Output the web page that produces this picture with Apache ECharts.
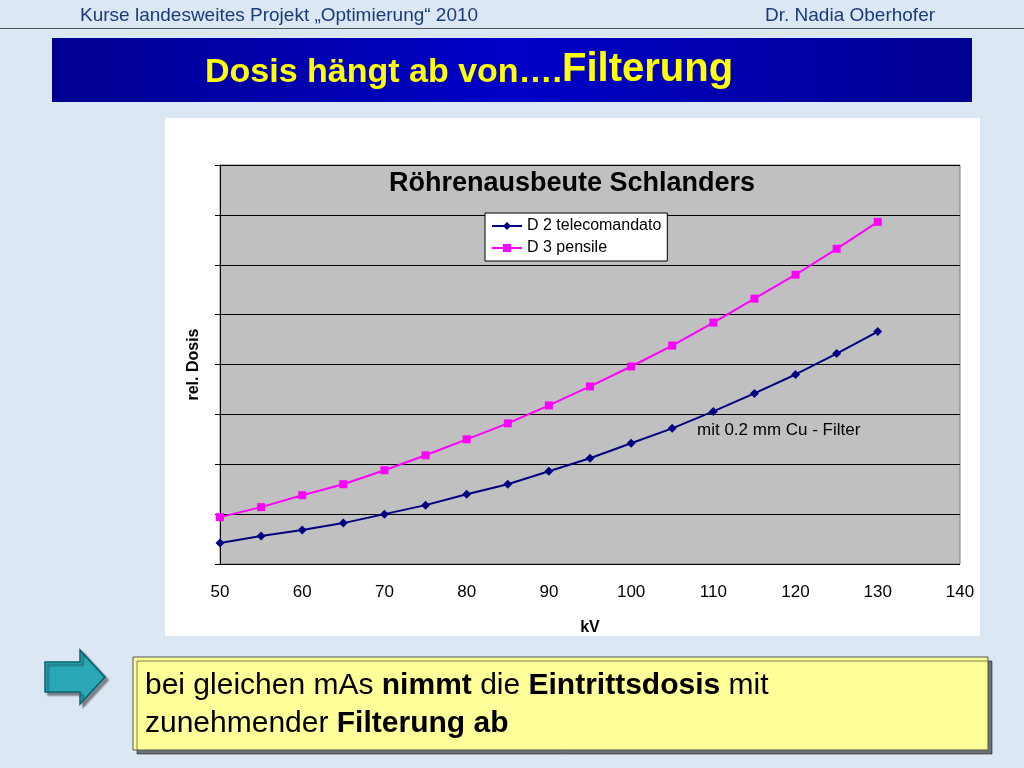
<!DOCTYPE html>
<html><head><meta charset="utf-8">
<script src="https://cdn.jsdelivr.net/npm/echarts@6/dist/echarts.min.js"></script>
<style>html,body{margin:0;padding:0;}#c{width:1024px;height:768px;}</style>
</head><body><div id="c"></div>
<script>
const kv = [50,55,60,65,70,75,80,85,90,95,100,105,110,115,120,125,130];
const d2 = [0.42,0.56,0.68,0.82,1.0,1.18,1.4,1.6,1.86,2.12,2.42,2.72,3.06,3.42,3.8,4.22,4.66];
const d3 = [0.94,1.14,1.38,1.6,1.88,2.18,2.5,2.82,3.18,3.56,3.96,4.38,4.84,5.32,5.8,6.32,6.86];
const xTicks = [50,60,70,80,90,100,110,120,130,140];
const chart = echarts.init(document.getElementById('c'));
const F = 'Liberation Sans, Arial, sans-serif';
chart.setOption({
  backgroundColor: '#dbe7f3',
  animation: false,
  graphic: [
    {type:'rect', z:0, shape:{x:0,y:28,width:1024,height:1}, style:{fill:'#555'}},
    {type:'text', left:80, top:6, style:{text:'Kurse landesweites Projekt „Optimierung“ 2010', fill:'#1a3a7a', font:'19px '+F}},
    {type:'text', left:765, top:6, style:{text:'Dr. Nadia Oberhofer', fill:'#1a3a7a', font:'19px '+F}},
    {type:'rect', shape:{x:52,y:38,width:920,height:64}, style:{fill:{type:'linear',x:0,y:0,x2:1,y2:0,colorStops:[{offset:0,color:'#000090'},{offset:0.5,color:'#0000c8'},{offset:1,color:'#000090'}]}}},
    {type:'text', left:205, top:50, style:{rich:{a:{font:'bold 34px '+F, fill:'#ffff00', verticalAlign:'bottom'}, b:{font:'bold 40px '+F, fill:'#ffff00', verticalAlign:'bottom'}}, text:'{a|Dosis hängt ab von….}{b|Filterung}'}},
    {type:'rect', z:-1, shape:{x:165,y:118,width:815,height:518}, style:{fill:'#ffffff'}},
    {type:'text', z:10, left:389, top:170, style:{text:'Röhrenausbeute Schlanders', fill:'#000', font:'bold 27px '+F}},
    {type:'text', z:10, left:697, top:422, style:{text:'mit 0.2 mm Cu - Filter', fill:'#000', font:'17px '+F}},
    {type:'polygon', shape:{points:[[45,662],[80,662],[80,650],[105,677],[80,704],[80,692],[45,692]]}, style:{fill:'#2aa8b8', stroke:'#0b5f6a', lineWidth:1.5, shadowColor:'rgba(0,0,0,0.4)', shadowOffsetX:3, shadowOffsetY:3, shadowBlur:2}},
    {type:'rect', shape:{x:133,y:657,width:855,height:93}, style:{fill:'#ffff99', stroke:'#555', lineWidth:1, shadowColor:'rgba(0,0,0,0.5)', shadowOffsetX:4, shadowOffsetY:4}},
    {type:'text', left:145, top:671, style:{rich:{n:{font:'30px '+F, fill:'#000'}, b:{font:'bold 30px '+F, fill:'#000'}}, text:'{n|bei gleichen mAs }{b|nimmt}{n| die }{b|Eintrittsdosis}{n| mit}'}},
    {type:'text', left:145, top:709, style:{rich:{n:{font:'30px '+F, fill:'#000'}, b:{font:'bold 30px '+F, fill:'#000'}}, text:'{n|zunehmender }{b|Filterung ab}'}}
  ],
  grid: {left:220, right:64, top:165, bottom:204, show:true, backgroundColor:'#c0c0c0', borderColor:'#808080', borderWidth:1},
  legend: {left:485, top:213, orient:'vertical', backgroundColor:'#fff', borderColor:'#000', borderWidth:1, padding:[5,6,5,6], itemGap:6, itemWidth:30, itemHeight:10,
    textStyle:{fontFamily:F, fontSize:16, color:'#000'}, data:['D 2 telecomandato','D 3 pensile']},
  xAxis: {type:'value', min:50, max:140, interval:10, name:'kV', nameLocation:'middle', nameGap:56,
    nameTextStyle:{fontFamily:F, fontWeight:'bold', fontSize:16, color:'#000'},
    axisLine:{show:false}, axisTick:{show:false}, splitLine:{show:false},
    axisLabel:{fontFamily:F, fontSize:17, color:'#000', margin:20, formatter: v => xTicks.includes(v) ? v : ''}},
  yAxis: {type:'value', min:0, max:8, interval:1, name:'rel. Dosis', nameLocation:'middle', nameGap:18,
    nameTextStyle:{fontFamily:F, fontWeight:'bold', fontSize:16, color:'#000'},
    axisLabel:{show:false}, axisLine:{show:true, lineStyle:{color:'#000'}}, axisTick:{show:true, inside:false, length:5, lineStyle:{color:'#000'}},
    splitLine:{show:true, lineStyle:{color:'#000', width:1}}},
  series: [
    {name:'D 2 telecomandato', type:'line', data:kv.map((k,i)=>[k,d2[i]]), symbol:'diamond', symbolSize:9, itemStyle:{color:'#000080'}, lineStyle:{color:'#000080', width:2}},
    {name:'D 3 pensile', type:'line', data:kv.map((k,i)=>[k,d3[i]]), symbol:'rect', symbolSize:8, itemStyle:{color:'#ff00ff'}, lineStyle:{color:'#ff00ff', width:2}}
  ]
});
</script></body></html>
